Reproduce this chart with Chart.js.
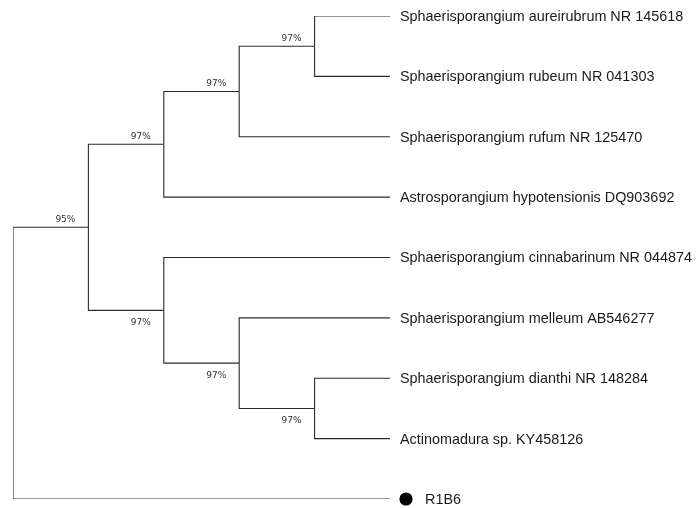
<!DOCTYPE html>
<html>
<head>
<meta charset="utf-8">
<script src="https://cdn.jsdelivr.net/npm/chart.js@4"></script>
<style>
  html, body { margin: 0; padding: 0; background: #ffffff; }
  #wrap { width: 696px; height: 508px; }
</style>
</head>
<body>
<div id="wrap"><canvas id="c" width="696" height="508"></canvas></div>
<script>
// ---- Data: tree topology and support values ----
const taxa = [
  'Sphaerisporangium aureirubrum NR 145618',
  'Sphaerisporangium rubeum NR 041303',
  'Sphaerisporangium rufum NR 125470',
  'Astrosporangium hypotensionis DQ903692',
  'Sphaerisporangium cinnabarinum NR 044874',
  'Sphaerisporangium melleum AB546277',
  'Sphaerisporangium dianthi NR 148284',
  'Actinomadura sp. KY458126',
  'R1B6'
];
const leafParent = ['D', 'D', 'C', 'B', 'E', 'F', 'G', 'G', 'root'];
const leafMarked = [false, false, false, false, false, false, false, false, true];
const leafDepth = 5;

const nodeIds     = ['root', 'A', 'B', 'C', 'D', 'E', 'F', 'G'];
const nodeParent  = [null, 'root', 'A', 'B', 'C', 'A', 'E', 'F'];
const nodeDepth   = [0, 1, 2, 3, 4, 2, 3, 4];
const nodeSupport = [null, '95%', '97%', '97%', '97%', '97%', '97%', '97%'];
const supportSide = [null, 'above', 'above', 'above', 'above', 'below', 'below', 'below'];

// ---- Derive node y positions (midpoint of first and last child) ----
const nodeY = {};
function childYs(id) {
  const ys = [];
  taxa.forEach((t, i) => { if (leafParent[i] === id) ys.push(i); });
  nodeIds.forEach((n, j) => { if (nodeParent[j] === id) ys.push(computeY(n)); });
  return ys;
}
function computeY(id) {
  if (nodeY[id] !== undefined) return nodeY[id];
  const ys = childYs(id);
  nodeY[id] = (Math.min(...ys) + Math.max(...ys)) / 2;
  return nodeY[id];
}
nodeIds.forEach(computeY);
const depthOf = id => nodeDepth[nodeIds.indexOf(id)];

// ---- Build elbow branches ----
const LINE = '#2a2a2a';
const datasets = [];
function addBranch(parentId, childDepth, childY) {
  const px = depthOf(parentId), py = nodeY[parentId];
  datasets.push({
    data: [{x: px, y: py}, {x: px, y: childY}, {x: childDepth, y: childY}],
    showLine: true, borderColor: LINE, borderWidth: 1.1, pointRadius: 0,
    tension: 0, fill: false
  });
}
nodeIds.forEach((n, j) => { if (nodeParent[j]) addBranch(nodeParent[j], nodeDepth[j], nodeY[n]); });
taxa.forEach((t, i) => addBranch(leafParent[i], leafDepth, i));

// ---- Labels plugin ----
const labelPlugin = {
  id: 'treeLabels',
  afterDatasetsDraw(chart) {
    const {ctx, scales: {x, y}} = chart;
    ctx.save();
    // leaf labels
    ctx.fillStyle = '#1a1a1a';
    ctx.font = '14.4px "Liberation Sans", Arial, sans-serif';
    ctx.textBaseline = 'middle';
    ctx.textAlign = 'left';
    taxa.forEach((t, i) => {
      const px = x.getPixelForValue(leafDepth);
      const py = y.getPixelForValue(i);
      let tx = px + 10;
      if (leafMarked[i]) {
        ctx.beginPath();
        ctx.arc(px + 16, py, 6.6, 0, Math.PI * 2);
        ctx.fillStyle = '#000';
        ctx.fill();
        ctx.fillStyle = '#1a1a1a';
        tx = px + 35;
      }
      ctx.fillText(t, tx, py + 1);
    });
    // support values
    ctx.font = '9px "DejaVu Sans", Verdana, sans-serif';
    ctx.fillStyle = '#333';
    ctx.textAlign = 'right';
    nodeIds.forEach((n, j) => {
      if (!nodeSupport[j]) return;
      const px = x.getPixelForValue(nodeDepth[j]);
      const py = y.getPixelForValue(nodeY[n]);
      const dy = supportSide[j] === 'above' ? -8 : 12;
      ctx.fillText(nodeSupport[j], px - 13, py + dy);
    });
    ctx.restore();
  }
};

new Chart(document.getElementById('c'), {
  type: 'scatter',
  data: { datasets },
  options: {
    responsive: false,
    animation: false,
    layout: { padding: { left: 13, right: 306, top: 16, bottom: 9 } },
    plugins: { legend: { display: false }, tooltip: { enabled: false } },
    scales: {
      x: { type: 'linear', min: 0, max: leafDepth, display: false },
      y: { type: 'linear', min: 0, max: taxa.length - 1, reverse: true, display: false }
    }
  },
  plugins: [labelPlugin]
});
</script>
</body>
</html>
